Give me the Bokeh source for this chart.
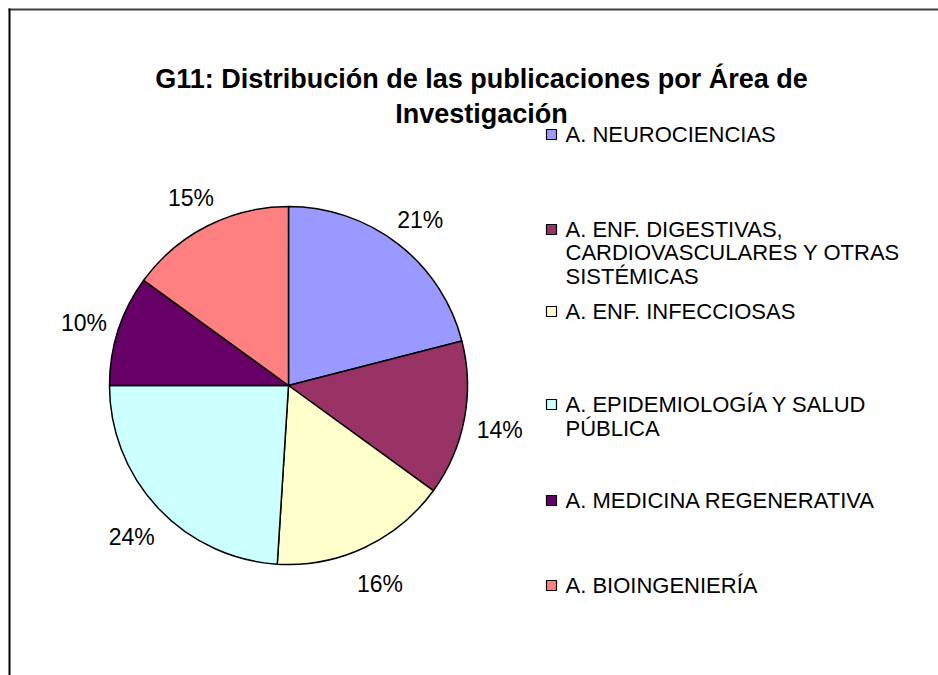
import math
from bokeh.plotting import figure
from bokeh.models import Range1d, ColumnDataSource
from bokeh.core.properties import value
from bokeh.embed import file_html
from bokeh.resources import INLINE

# ---- data ----
legend_lines = [
    ["A. NEUROCIENCIAS"],
    ["A. ENF. DIGESTIVAS,", "CARDIOVASCULARES Y OTRAS", "SISTÉMICAS"],
    ["A. ENF. INFECCIOSAS"],
    ["A. EPIDEMIOLOGÍA Y SALUD", "PÚBLICA"],
    ["A. MEDICINA REGENERATIVA"],
    ["A. BIOINGENIERÍA"],
]
categories = [" ".join(l) for l in legend_lines]
percent = [21, 14, 16, 24, 10, 15]
colors = ["#9999FF", "#993366", "#FFFFCC", "#CCFFFF", "#660066", "#FF8080"]
title_lines = ["G11: Distribución de las publicaciones por Área de", "Investigación"]

# ---- layout (page pixel coords) ----
W, H = 938, 675
def X(px): return px
def Y(py): return H - py

FONT = "Liberation Sans"
cx, cy, R = X(288), Y(385), 179
label_r = 215
legend_y = [[134], [229, 252, 276], [311], [404, 428], [500], [585]]

p = figure(width=W, height=H, output_backend="svg", toolbar_location=None,
           x_range=Range1d(0, W), y_range=Range1d(0, H), min_border=0)
p.axis.visible = False
p.grid.visible = False
p.outline_line_color = None
p.background_fill_color = "white"
p.border_fill_color = "white"

# frame edges (top and left visible), drawn as thin filled bands
p.quad(left=[X(8)], right=[W], top=[Y(8)], bottom=[Y(10)], fill_color="#404040", line_color=None)
p.quad(left=[X(8)], right=[X(10)], top=[Y(8)], bottom=[0], fill_color="#000000", line_color=None)

total = float(sum(percent))
starts, ends, lx, ly, labels = [], [], [], [], []
cum = 0.0
for v in percent:
    a0 = math.pi / 2 - 2 * math.pi * (cum + v) / total
    a1 = math.pi / 2 - 2 * math.pi * cum / total
    starts.append(a0)
    ends.append(a1)
    mid = (a0 + a1) / 2
    lx.append(cx + label_r * math.cos(mid))
    ly.append(cy + label_r * math.sin(mid) - 4)
    labels.append(f"{v}%")
    cum += v

src = ColumnDataSource(dict(start=starts, end=ends, color=colors))
p.wedge(x=cx, y=cy, radius=R, start_angle="start", end_angle="end", direction="anticlock",
        fill_color="color", line_color="black", line_width=1.5, source=src)

p.text(x=lx, y=ly, text=labels, text_align="center", text_baseline="middle",
       text_font=value(FONT), text_font_size="23px", text_color="black")

# title
p.text(x=[X(481)] * 2, y=[Y(78), Y(113)], text=title_lines, text_align="center",
       text_baseline="middle", text_font=value(FONT), text_font_size="27px",
       text_font_style="bold", text_color="black")

# legend
for lines, ys, col in zip(legend_lines, legend_y, colors):
    p.scatter(x=[X(551)], y=[Y(ys[0])], marker="square", size=10, fill_color=col,
              line_color="black", line_width=1.2)
    p.text(x=[X(565)] * len(lines), y=[Y(v) for v in ys], text=lines, text_align="left",
           text_baseline="middle", text_font=value(FONT), text_font_size="22px",
           text_color="black")

open("out.html", "w").write(file_html(p, INLINE))
